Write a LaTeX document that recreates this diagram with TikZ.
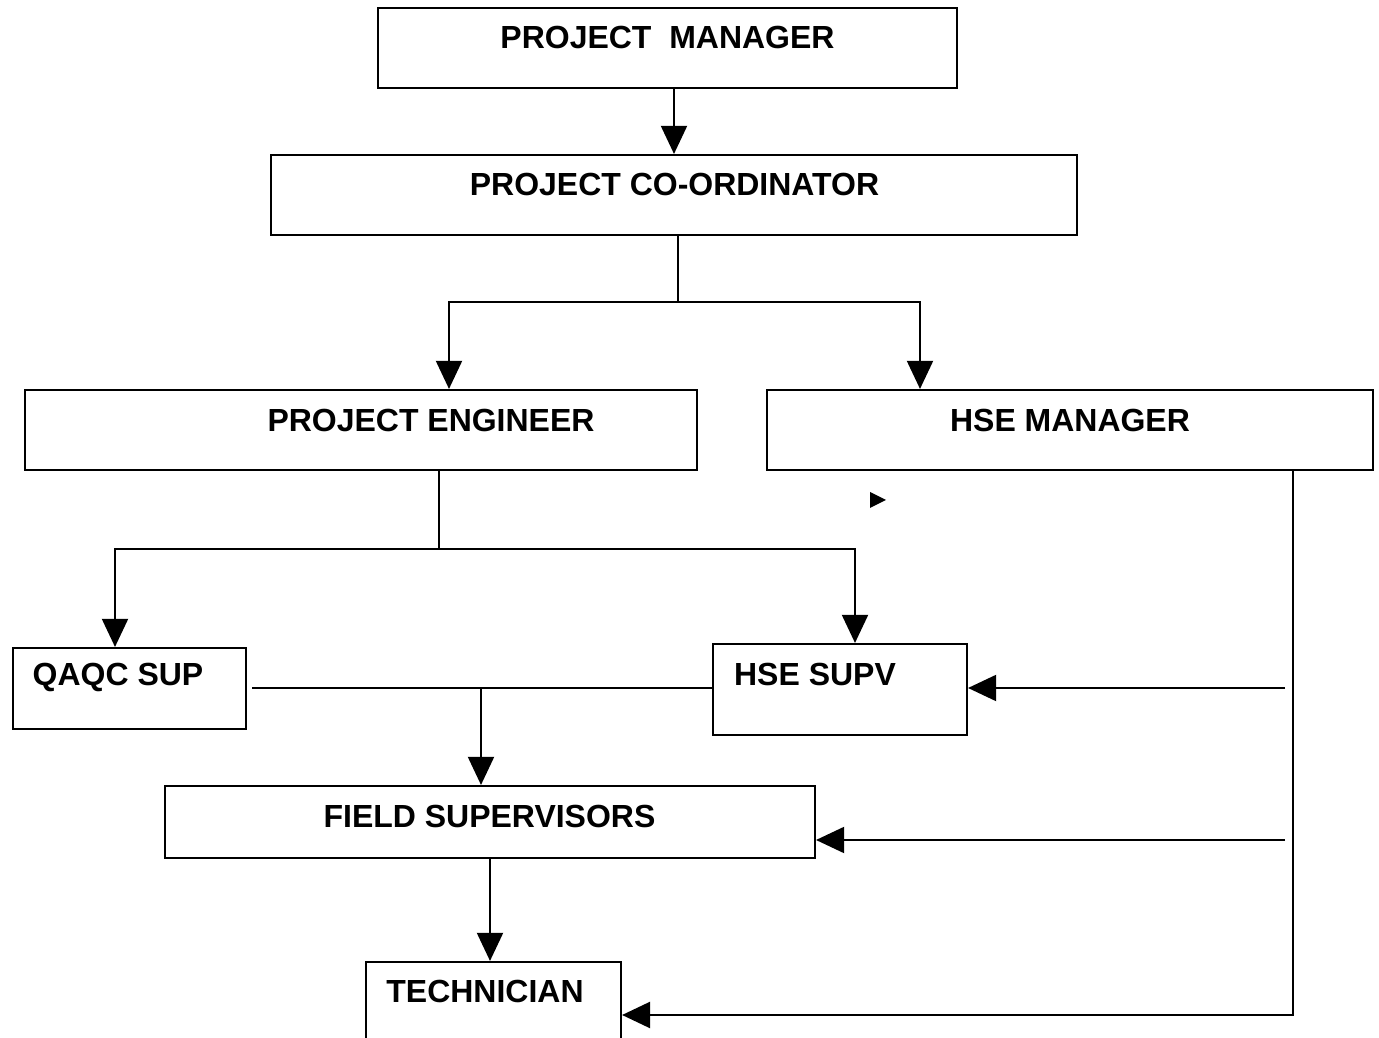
\documentclass[tikz,border=0pt]{standalone}
\usepackage{fontspec}
\setmainfont{Liberation Sans}
\usetikzlibrary{arrows.meta}
\begin{document}
\begin{tikzpicture}[x=0.1cm,y=-0.1cm,
  box/.style={draw, line width=0.6pt, inner sep=0pt},
  lbl/.style={inner sep=0pt, font=\fontsize{9.1}{11}\selectfont\bfseries},
  ln/.style={line width=0.6pt},
  arr/.style={line width=0.6pt, -{Triangle[length=8pt,width=7.4pt]}}]
\useasboundingbox (0,0) rectangle (137.9,103.8);
% boxes
\node[box, minimum width=5.79cm, minimum height=0.80cm] (pm) at (66.75,4.8) {}; % manager
\node[box, minimum width=8.06cm, minimum height=0.80cm] (pc) at (67.4,19.5) {}; % co-ordinator
\node[box, minimum width=6.72cm, minimum height=0.80cm] (pe) at (36.1,43.0) {}; % engineer
\node[box, minimum width=6.06cm, minimum height=0.80cm] (hm) at (107.0,43.0) {}; % hse manager
\node[box, minimum width=2.33cm, minimum height=0.81cm] (qaqc) at (12.95,68.85) {};
\node[box, minimum width=2.54cm, minimum height=0.91cm] (hsupv) at (84.0,68.95) {};
\node[box, minimum width=6.50cm, minimum height=0.72cm] (fs) at (49.0,82.2) {};
\node[box, minimum width=2.55cm, minimum height=0.98cm] (tech) at (49.35,101.1) {};
% texts
\node[lbl] (pmt) at (66.75,3.8) {PROJECT~~MANAGER};
\node[lbl] (pct) at (67.45,18.5) {PROJECT CO-ORDINATOR};
\node[lbl] (pet) at (43.1,42.0) {PROJECT ENGINEER};
\node[lbl] (hmt) at (107.0,42.0) {HSE MANAGER};
\node[lbl] (qaqct) at (11.8,67.7) {QAQC SUP};
\node[lbl] (hsupvt) at (81.5,67.4) {HSE SUPV};
\node[lbl] (fst) at (48.95,81.6) {FIELD SUPERVISORS};
\node[lbl] (techt) at (48.5,99.1) {TECHNICIAN};
% junctions
\coordinate (cj) at (67.8,30.2);
\coordinate (cl) at (44.9,30.2);
\coordinate (cr) at (92.0,30.2);
\coordinate (pd) at (43.9,54.9);
\coordinate (pl) at (11.5,54.9);
\coordinate (pr) at (85.5,54.9);
\coordinate (ma) at (25.2,68.8);
\coordinate (mb) at (48.1,68.8);
\coordinate (r1) at (128.5,68.8);
\coordinate (r2) at (128.5,84.0);
\coordinate (rb) at (129.3,101.5);
% connectors
\draw[arr] (pm.south -| pc.north) -- (pc.north); % down
\draw[ln] (pc.south -| cj) -- (cj);
\draw[arr] (cj) -| (cl |- pe.north);
\draw[arr] (cj) -| (cr |- hm.north);
\draw[ln] (pe.south -| pd) -- (pd);
\draw[arr] (pd) -| (pl |- qaqc.north);
\draw[arr] (pd) -| (pr |- hsupv.north);
\draw[ln] (ma) -- (ma -| hsupv.west);
\draw[arr] (mb) -- (mb |- fs.north);
\draw[arr] (fs.south) -- (fs.south |- tech.north);
\draw[arr, line width=0.75pt] (hm.south -| rb) -- (rb) -- (rb -| tech.east); % right side
\draw[arr] (r1) -- (r1 -| hsupv.east);
\draw[arr] (r2) -- (r2 -| fs.east);
\fill (87.0,49.2) -- (88.6,50.0) -- (87.0,50.8) -- cycle; % stray tip
\end{tikzpicture}
\end{document}
